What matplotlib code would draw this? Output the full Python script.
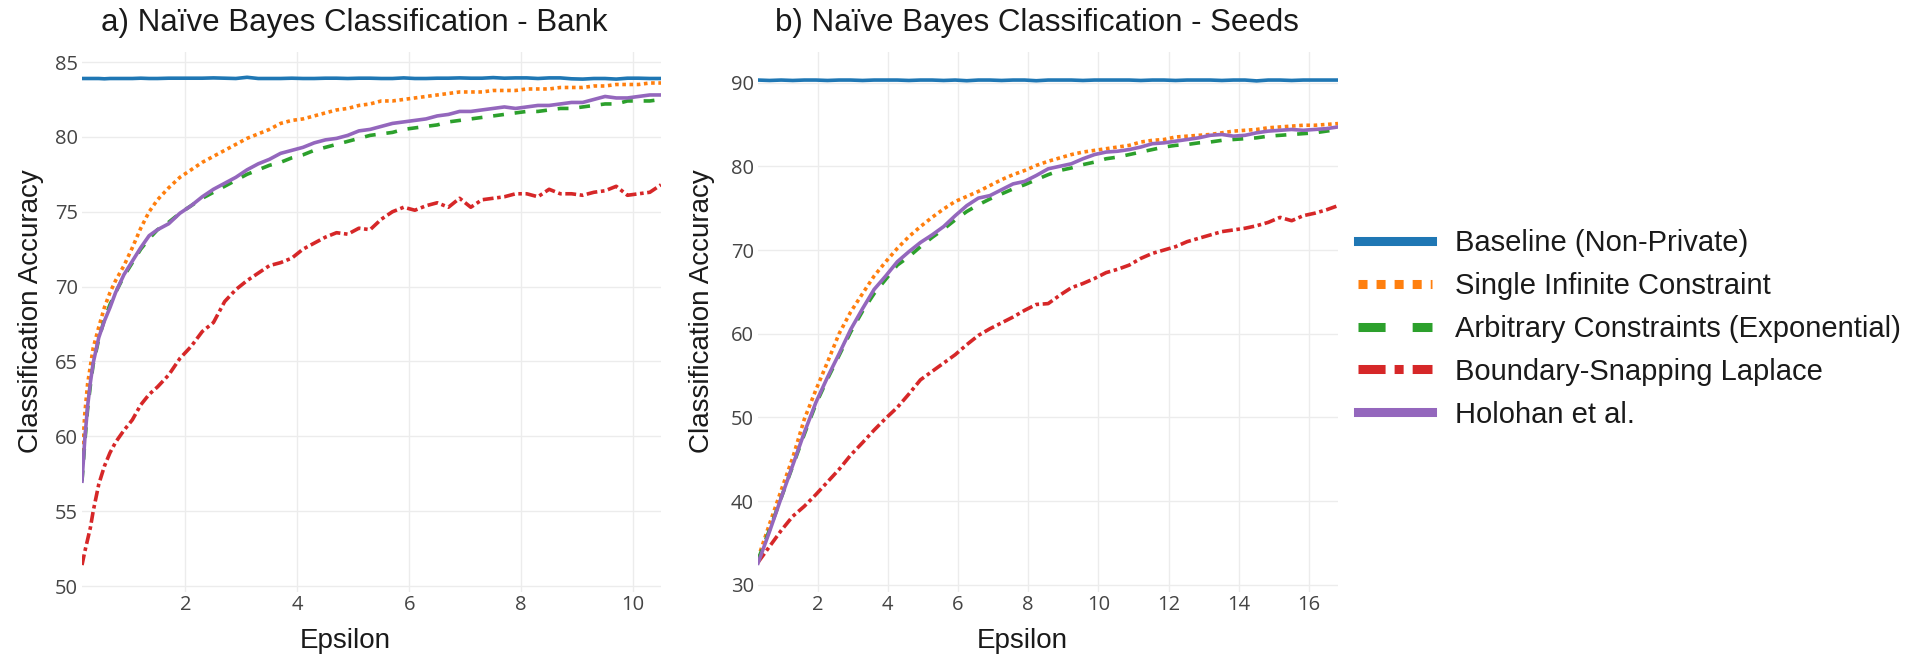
import matplotlib
matplotlib.use("Agg")
import matplotlib.pyplot as plt
import numpy as np

# ---------------- data ----------------
eps_bank = [0.15, 0.2, 0.25, 0.3, 0.35, 0.45, 0.55, 0.65, 0.75, 0.9, 1.05, 1.2, 1.35, 1.5,
            1.7, 1.9, 2.1, 2.3, 2.5, 2.7, 2.9, 3.1, 3.3, 3.5, 3.7, 3.9, 4.1, 4.3, 4.5, 4.7,
            4.9, 5.1, 5.3, 5.5, 5.7, 5.9, 6.1, 6.3, 6.5, 6.7, 6.9, 7.1, 7.3, 7.5, 7.7, 7.9,
            8.1, 8.3, 8.5, 8.7, 8.9, 9.1, 9.3, 9.5, 9.7, 9.9, 10.1, 10.3, 10.5]

bank_baseline = [83.9, 83.9, 83.9, 83.9, 83.9, 83.9, 83.88, 83.9, 83.9, 83.9, 83.9, 83.92, 83.9, 83.9,
                 83.92, 83.92, 83.92, 83.92, 83.94, 83.92, 83.9, 83.98, 83.9, 83.9, 83.9, 83.92, 83.9, 83.9, 83.92, 83.92,
                 83.9, 83.92, 83.92, 83.9, 83.9, 83.94, 83.9, 83.9, 83.92, 83.92, 83.94, 83.92, 83.92, 83.96, 83.92, 83.94,
                 83.94, 83.9, 83.94, 83.94, 83.88, 83.86, 83.9, 83.9, 83.86, 83.92, 83.92, 83.9, 83.9]
bank_single = [58.5, 61.5, 63.5, 64.7, 65.9, 67.3, 68.6, 69.6, 70.4, 71.4, 72.6, 73.9, 75.0, 75.8,
               76.6, 77.3, 77.8, 78.3, 78.7, 79.1, 79.5, 79.9, 80.2, 80.5, 80.9, 81.1, 81.2, 81.4, 81.6, 81.8,
               81.9, 82.1, 82.2, 82.4, 82.4, 82.5, 82.6, 82.7, 82.8, 82.9, 83.0, 83.0, 83.0, 83.1, 83.1, 83.1,
               83.2, 83.2, 83.2, 83.3, 83.3, 83.3, 83.4, 83.4, 83.5, 83.5, 83.5, 83.6, 83.6]
bank_arbitrary = [57.0, 59.6, 61.8, 63.4, 64.8, 66.5, 67.8, 68.8, 69.6, 70.7, 71.6, 72.5, 73.2, 73.8,
                  74.3, 74.9, 75.4, 75.9, 76.3, 76.7, 77.1, 77.5, 77.8, 78.1, 78.3, 78.6, 78.8, 79.1, 79.3, 79.5,
                  79.7, 79.9, 80.1, 80.2, 80.3, 80.5, 80.6, 80.7, 80.8, 81.0, 81.1, 81.2, 81.3, 81.4, 81.5, 81.6,
                  81.7, 81.7, 81.8, 81.9, 81.9, 82.0, 82.1, 82.2, 82.2, 82.4, 82.4, 82.4, 82.5]
bank_snapping = [51.4, 52.3, 53.1, 53.9, 55.0, 56.8, 58.0, 58.9, 59.6, 60.4, 61.1, 62.1, 62.8, 63.3,
                 64.1, 65.2, 66.0, 67.0, 67.6, 69.0, 69.8, 70.4, 70.9, 71.4, 71.6, 71.9, 72.5, 72.9, 73.3, 73.6,
                 73.5, 73.9, 73.8, 74.5, 75.0, 75.3, 75.1, 75.4, 75.6, 75.3, 75.9, 75.3, 75.8, 75.9, 76.0, 76.2,
                 76.2, 76.0, 76.5, 76.2, 76.2, 76.1, 76.3, 76.4, 76.7, 76.1, 76.2, 76.3, 76.8]
bank_holohan = [57.0, 59.8, 62.0, 63.6, 64.9, 66.6, 67.7, 68.6, 69.6, 70.8, 71.7, 72.6, 73.4, 73.8,
                74.2, 74.9, 75.4, 76.0, 76.5, 76.9, 77.3, 77.8, 78.2, 78.5, 78.9, 79.1, 79.3, 79.6, 79.8, 79.9,
                80.1, 80.4, 80.5, 80.7, 80.9, 81.0, 81.1, 81.2, 81.4, 81.5, 81.7, 81.7, 81.8, 81.9, 82.0, 81.9,
                82.0, 82.1, 82.1, 82.2, 82.3, 82.3, 82.5, 82.7, 82.6, 82.6, 82.7, 82.8, 82.8]

eps_seeds = [0.30, 0.63, 0.96, 1.29, 1.62, 1.95, 2.28, 2.61, 2.94, 3.28, 3.61, 3.94, 4.27, 4.60,
             4.93, 5.26, 5.59, 5.92, 6.25, 6.58, 6.91, 7.24, 7.57, 7.90, 8.23, 8.57, 8.90, 9.23,
             9.56, 9.89, 10.22, 10.55, 10.88, 11.21, 11.54, 11.87, 12.20, 12.53, 12.86, 13.19,
             13.52, 13.85, 14.18, 14.51, 14.84, 15.18, 15.51, 15.84, 16.17, 16.50, 16.83]

seeds_baseline = [90.3, 90.25, 90.3, 90.25, 90.3, 90.3, 90.25, 90.3, 90.3, 90.25, 90.3, 90.3, 90.3,
                  90.25, 90.3, 90.3, 90.25, 90.3, 90.22, 90.3, 90.3, 90.25, 90.3, 90.3, 90.22, 90.3,
                  90.3, 90.3, 90.25, 90.3, 90.3, 90.3, 90.3, 90.25, 90.3, 90.3, 90.25, 90.3, 90.3,
                  90.3, 90.25, 90.3, 90.3, 90.2, 90.3, 90.3, 90.25, 90.3, 90.3, 90.3, 90.3]
seeds_single = [33.2, 37.3, 41.3, 45.2, 49.8, 53.3, 56.6, 60.0, 62.6, 64.8, 66.9, 68.6, 70.2, 71.6,
                72.8, 73.9, 74.9, 75.8, 76.4, 77.0, 77.7, 78.4, 79.0, 79.5, 80.1, 80.6, 81.0, 81.4,
                81.7, 81.9, 82.1, 82.3, 82.5, 82.9, 83.1, 83.2, 83.5, 83.6, 83.7, 83.8, 84.0, 84.2,
                84.3, 84.4, 84.6, 84.7, 84.8, 84.9, 84.9, 85.0, 85.1]
seeds_arbitrary = [33.0, 36.6, 40.4, 44.2, 48.0, 51.6, 54.6, 57.4, 60.2, 62.7, 64.8, 66.5, 68.2, 69.2,
                   70.4, 71.5, 72.5, 73.6, 74.6, 75.4, 76.1, 76.7, 77.3, 77.8, 78.4, 79.0, 79.5, 79.8,
                   80.2, 80.5, 80.9, 81.1, 81.4, 81.7, 82.0, 82.3, 82.5, 82.6, 82.8, 82.9, 83.1, 83.2,
                   83.3, 83.4, 83.6, 83.7, 83.8, 83.9, 84.0, 84.2, 84.4]
seeds_snapping = [32.7, 34.6, 36.5, 38.2, 39.4, 40.8, 42.3, 43.8, 45.5, 47.0, 48.5, 49.9, 51.2, 52.8,
                  54.5, 55.5, 56.5, 57.5, 58.7, 59.8, 60.6, 61.3, 62.0, 62.8, 63.5, 63.6, 64.6, 65.5,
                  66.0, 66.6, 67.3, 67.7, 68.2, 69.0, 69.6, 70.0, 70.4, 71.0, 71.4, 71.8, 72.2, 72.4,
                  72.6, 72.9, 73.3, 73.9, 73.5, 74.1, 74.4, 74.8, 75.3]
seeds_holohan = [32.6, 36.4, 40.4, 44.3, 48.2, 51.8, 54.8, 57.6, 60.5, 63.0, 65.3, 66.9, 68.6, 69.8,
                 70.9, 71.8, 72.8, 74.1, 75.3, 76.2, 76.5, 77.2, 77.9, 78.2, 78.9, 79.7, 80.0, 80.3,
                 80.9, 81.4, 81.7, 81.8, 82.0, 82.3, 82.7, 82.8, 83.0, 83.2, 83.4, 83.7, 83.8, 83.6,
                 83.7, 84.0, 84.2, 84.3, 84.4, 84.3, 84.4, 84.5, 84.7]

series_names = ["Baseline (Non-Private)", "Single Infinite Constraint",
                "Arbitrary Constraints (Exponential)", "Boundary-Snapping Laplace", "Holohan et al."]
titles = ["a) Naïve Bayes Classification - Bank", "b) Naïve Bayes Classification - Seeds"]
bank_yticks = [50, 55, 60, 65, 70, 75, 80, 85]
seeds_yticks = [30, 40, 50, 60, 70, 80, 90]
bank_xticks = [2, 4, 6, 8, 10]
seeds_xticks = [2, 4, 6, 8, 10, 12, 14, 16]

# ---------------- style ----------------
colors = ["#1f77b4", "#ff7f0e", "#2ca02c", "#d62728", "#9467bd"]
dashes = [None, (1, 1), (3, 3), (3, 1, 1, 1), None]
LW = 2.6
TXT = ["Liberation Sans", "DejaVu Sans"]
TICK = ["Open Sans", "DejaVu Sans"]

fig = plt.figure(figsize=(19.17, 6.55), dpi=100)
fig.patch.set_facecolor("white")

ax_a = fig.add_axes([82 / 1917, 63 / 655, 579 / 1917, 540 / 655])
ax_b = fig.add_axes([758 / 1917, 63 / 655, 580 / 1917, 540 / 655])

panels = [
    (ax_a, eps_bank, [bank_baseline, bank_single, bank_arbitrary, bank_snapping, bank_holohan],
     bank_xticks, bank_yticks, (49.6, 85.67), titles[0], 0.47, -0.088),
    (ax_b, eps_seeds, [seeds_baseline, seeds_single, seeds_arbitrary, seeds_snapping, seeds_holohan],
     seeds_xticks, seeds_yticks, (29.16, 93.65), titles[1], 0.481, -0.097),
]

handles = []
for ax, xs, ys_list, xt, yt, ylim, title, tx, ylx in panels:
    for i, ys in enumerate(ys_list):
        kw = dict(color=colors[i], lw=LW, solid_joinstyle="round", label=series_names[i])
        if dashes[i] is not None:
            kw["dashes"] = dashes[i]
            kw["dash_capstyle"] = "butt"
        ln, = ax.plot(xs, ys, **kw)
        if ax is ax_a:
            handles.append(ln)
    ax.set_xlim(min(xs), max(xs))
    ax.set_ylim(*ylim)
    ax.set_xticks(xt)
    ax.set_yticks(yt)
    ax.grid(True, color="#ececec", lw=1.0)
    ax.set_axisbelow(True)
    for s in ax.spines.values():
        s.set_visible(False)
    ax.tick_params(length=0, labelsize=14.5, labelcolor="#444444", pad=2)
    ax.tick_params(axis="y", pad=3)
    for lab in ax.get_xticklabels() + ax.get_yticklabels():
        lab.set_fontfamily(TICK)
    ax.set_title(title, fontsize=22.5, family=TXT, color="#1a1a1a", x=tx, y=1.038, va="center")
    ax.set_xlabel("Epsilon", fontsize=20, family=TXT, color="#1a1a1a", va="center")
    ax.xaxis.set_label_coords(0.455, -0.091)
    ax.set_ylabel("Classification Accuracy", fontsize=20, family=TXT, color="#1a1a1a", va="center")
    ax.yaxis.set_label_coords(ylx, 0.52)

leg = fig.legend(handles, series_names, loc="center left", bbox_to_anchor=(1358 / 1917, 0.498),
                 frameon=False, borderpad=0, borderaxespad=0, handlelength=2.53,
                 handletextpad=0.79, labelspacing=0.51,
                 prop={"family": TXT, "size": 21})
for ln in leg.get_lines():
    ln.set_linewidth(6.5)
for t in leg.get_texts():
    t.set_color("#1a1a1a")

fig.savefig("out.png", dpi=100, facecolor="white")
